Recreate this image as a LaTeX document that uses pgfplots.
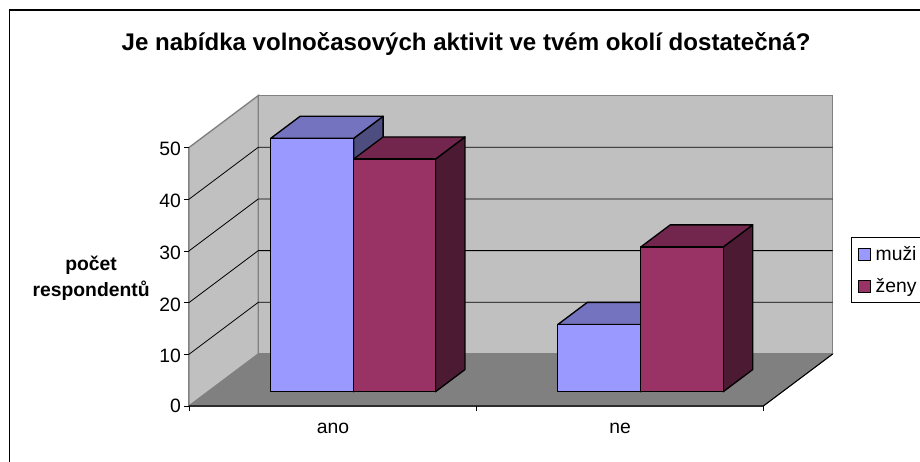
\documentclass[border=0pt]{standalone}
\usepackage{pgfplots}
\pgfplotsset{compat=1.18}
\usepackage{fontspec}
\setmainfont{Liberation Sans}
\definecolor{wall}{HTML}{C0C0C0}
\definecolor{edge}{HTML}{808080}
\definecolor{floorc}{HTML}{808080}
\definecolor{mfront}{HTML}{9999FF}
\definecolor{mtop}{HTML}{7373BF}
\definecolor{mside}{HTML}{4D4D80}
\definecolor{zfront}{HTML}{993366}
\definecolor{ztop}{HTML}{73264D}
\definecolor{zside}{HTML}{4D1A33}
% one 3-D column: x from, x to, value, colours of front, top, side
\newcommand{\column}[6]{%
  \addplot3[fill=#6,draw=black,line width=1pt,line join=round,mark=none,forget plot] coordinates {(#2,0.275,0) (#2,0.7,0) (#2,0.7,#3) (#2,0.275,#3)} -- cycle;
  \addplot3[fill=#5,draw=black,line width=1pt,line join=round,mark=none,forget plot] coordinates {(#1,0.275,#3) (#2,0.275,#3) (#2,0.7,#3) (#1,0.7,#3)} -- cycle;
  \addplot3[fill=#4,draw=black,line width=1pt,line join=round,mark=none,forget plot] coordinates {(#1,0.275,0) (#2,0.275,0) (#2,0.275,#3) (#1,0.275,#3)} -- cycle;
}
\newcommand{\gridline}[1]{%
  \addplot3[black,line width=0.6pt,mark=none,forget plot] coordinates {(0,0,#1) (0,1,#1) (2,1,#1)};
}
\newcommand{\ztickmark}[1]{%
  \addplot3[black,line width=0.6pt,mark=none,forget plot] coordinates {(-0.016,0,#1) (0,0,#1)};
}
\newcommand{\xtickmark}[1]{%
  \addplot3[black,line width=0.6pt,mark=none,forget plot] coordinates {(#1,0,0) (#1,0,-0.9)};
}
\begin{document}
\begin{tikzpicture}[x=1pt,y=1pt]
\path[use as bounding box] (0,0) rectangle (690,-345.75);
\fill[white] (0,0) rectangle (690,-345.75);
\draw[black,line width=1pt] (7,-7.5) rectangle (700,-360);
\begin{axis}[
  at={(141.75pt,-304.5pt)}, anchor=origin,
  x={(215.36pt,0pt)}, y={(52pt,39pt)}, z={(0pt,3.8775pt)},
  xmin=0,xmax=2,ymin=0,ymax=1,zmin=0,zmax=50,
  clip=false,
  axis lines=left,
  axis y line=none,
  axis line style={edge,line width=0.9pt,-},
  tick align=outside,
  major tick length=0pt,
  xtick={0.5,1.5}, xticklabels={ano,ne},
  ztick={0,10,20,30,40,50},
  /pgf/number format/assume math mode=true,
  ticklabel style={font=\fontsize{14.5pt}{17pt}\selectfont},
  x tick label style={yshift=-9pt,xshift=4pt},
  z tick label style={yshift=2.5pt,xshift=-2.5pt},
  title={Je nabídka volnočasových aktivit ve tvém okolí dostatečná?},
  title style={at={(axis cs:0.965,0,70.4)},anchor=center,yshift=-7.5pt,font=\fontsize{18.05pt}{20pt}\selectfont\bfseries},
  zlabel={počet\\respondentů},
  zlabel style={at={(axis cs:-0.341,0,24.7)},anchor=center,rotate=-90,align=center,font=\fontsize{14.5pt}{20pt}\selectfont\bfseries},
  legend style={at={(axis cs:2.305,0,32.7)},anchor=north west,draw=black,line width=0.75pt,
    font=\fontsize{14.5pt}{17pt}\selectfont,inner xsep=5pt,inner ysep=4.5pt,row sep=8pt,cells={anchor=west}},
  legend image code/.code={\draw[#1] (0pt,-4.5pt) rectangle (9pt,4.5pt);\path (10.5pt,0pt);},
]
% walls and floor
\addplot3[fill=wall,draw=edge,line width=1pt,mark=none,forget plot] coordinates {(0,0,0) (0,1,0) (0,1,50) (0,0,50)} -- cycle;
\addplot3[fill=wall,draw=edge,line width=1pt,mark=none,forget plot] coordinates {(0,1,0) (2,1,0) (2,1,50) (0,1,50)} -- cycle;
\addplot3[fill=floorc,draw=edge,line width=0.75pt,mark=none,forget plot] coordinates {(0,0,0) (2,0,0) (2,1,0) (0,1,0)} -- cycle;
\addplot3[black,line width=0.8pt,mark=none,forget plot] coordinates {(0,0,0) (2,0,0) (2,1,0)};
\gridline{10}\gridline{20}\gridline{30}\gridline{40}
\ztickmark{0}\ztickmark{10}\ztickmark{20}\ztickmark{30}\ztickmark{40}\ztickmark{50}
\xtickmark{0}\xtickmark{1}\xtickmark{2}
% columns
\column{0.218}{0.507}{49}{mfront}{mtop}{mside}
\column{0.507}{0.792}{45}{zfront}{ztop}{zside}
\column{1.218}{1.507}{13}{mfront}{mtop}{mside}
\column{1.507}{1.794}{28}{zfront}{ztop}{zside}
\addlegendimage{fill=mfront,draw=black,line width=0.75pt}
\addlegendentry{muži}
\addlegendimage{fill=zfront,draw=black,line width=0.75pt}
\addlegendentry{ženy}
\end{axis}
\end{tikzpicture}
\end{document}
